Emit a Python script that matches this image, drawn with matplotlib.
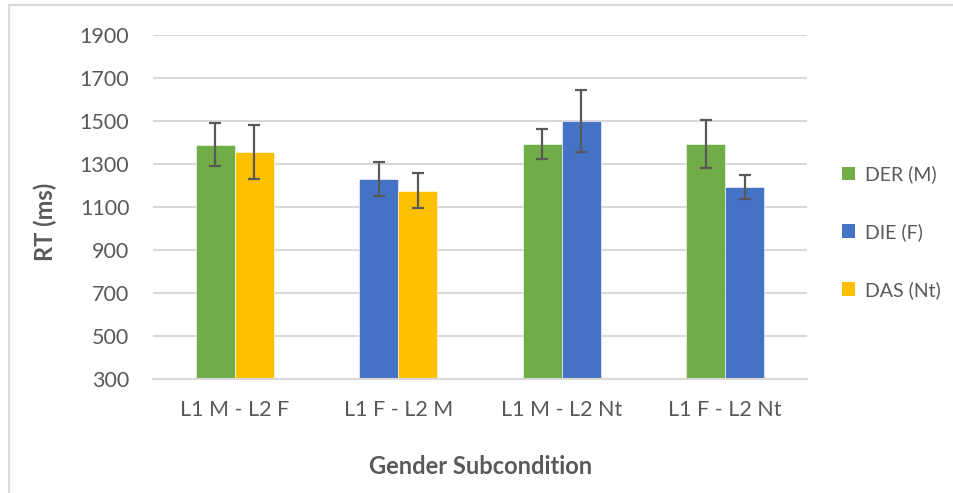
import matplotlib
matplotlib.use('Agg')
import matplotlib.pyplot as plt
import numpy as np
from matplotlib.patches import Rectangle, Patch

# ========== Datos ==========

categories = ['L1 M - L2 F', 'L1 F - L2 M', 'L1 M - L2 Nt', 'L1 F - L2 Nt']
series_names = ['DER (M)', 'DIE (F)', 'DAS (Nt)']
series_colors = ['#70AD47', '#4472C4', '#FFC000']

der_mean = [1390, np.nan, 1393, 1393]
der_err = [100, np.nan, 72, 110]
die_mean = [np.nan, 1230, 1500, 1192]
die_err = [np.nan, 80, 142, 56]
das_mean = [1355, 1175, np.nan, np.nan]
das_err = [127, 81, np.nan, np.nan]

y_ticks = [300, 500, 700, 900, 1100, 1300, 1500, 1700, 1900]

means = [der_mean, die_mean, das_mean]
errs = [der_err, die_err, das_err]

text_color = '#595959'
grid_color = '#D9D9D9'
font = 'Lato'

# ========== Grafica ==========

fig = plt.figure(figsize=(9.54, 4.93), dpi=100)
ax = fig.add_axes([153 / 954, 1 - 379 / 493, (807 - 153) / 954, (379 - 35) / 493])

# marco del grafico
fig.patches.append(Rectangle((9 / 954, -0.1), 1.2, 1 - 5 / 493 + 0.1, transform=fig.transFigure,
                             fill=False, edgecolor=grid_color, linewidth=1.5))

bar_w = 0.24
for c in range(len(categories)):
    present = [s for s in range(3) if not np.isnan(means[s][c])]
    n = len(present)
    for k, s in enumerate(present):
        x = c + (k - (n - 1) / 2) * bar_w
        ax.bar(x, means[s][c] - 300, bottom=300, width=bar_w, color=series_colors[s],
               edgecolor='white', linewidth=0.4, zorder=2)
        ax.errorbar(x, means[s][c], yerr=errs[s][c], fmt='none', ecolor='#595959',
                    elinewidth=1.6, capsize=4.5, capthick=1.6, zorder=3)

ax.set_xlim(-0.5, len(categories) - 0.5)
ax.set_ylim(300, 1900)
ax.set_yticks(y_ticks)
ax.set_xticks(range(len(categories)))
ax.set_xticklabels(categories)
ax.grid(True, axis='y', color=grid_color, linewidth=1.5, zorder=0)
ax.set_axisbelow(True)
for side in ['top', 'right', 'left']:
    ax.spines[side].set_visible(False)
ax.spines['bottom'].set_color(grid_color)
ax.spines['bottom'].set_linewidth(1.5)
ax.tick_params(axis='both', length=0, colors=text_color, labelsize=15.5)
ax.tick_params(axis='y', pad=17)
ax.tick_params(axis='x', pad=15)
for lab in ax.get_xticklabels() + ax.get_yticklabels():
    lab.set_fontfamily(font)

fig.text(45 / 954, 1 - 222 / 493, 'RT (ms)', rotation=90, ha='center', va='center',
         fontsize=17, fontweight='bold', color=text_color, family=font)
fig.text(481 / 954, 1 - 466 / 493, 'Gender Subcondition', ha='center', va='center',
         fontsize=17, fontweight='bold', color=text_color, family=font)

handles = [Patch(facecolor=series_colors[i], label=series_names[i]) for i in range(3)]
leg = fig.legend(handles=handles, loc='center left', bbox_to_anchor=(826 / 954, 1 - 232 / 493),
                 frameon=False, labelspacing=2.05, handlelength=0.7, borderpad=0.3,
                 handleheight=0.7, handletextpad=0.5, prop={'family': font, 'size': 14})
for t in leg.get_texts():
    t.set_color(text_color)

plt.savefig('out.png', dpi=100)
